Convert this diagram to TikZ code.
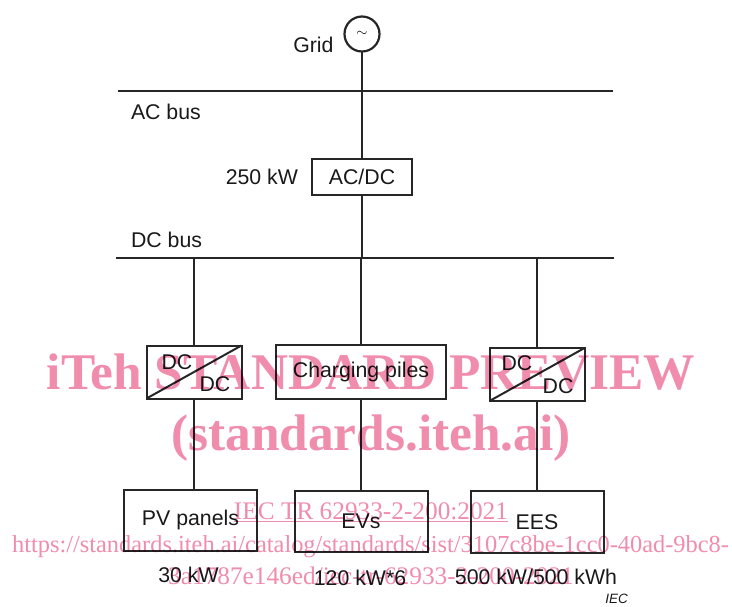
\documentclass[tikz,border=0pt]{standalone}
\usepackage{fontspec}
\setmainfont{Liberation Sans}
\newfontfamily\markfont{Liberation Serif}
\usepackage{xcolor}
\usetikzlibrary{positioning, calc}
\definecolor{markpink}{HTML}{F08CAC}
\tikzset{
    unitbox/.style={
        rectangle,
        draw=black!85,
        line width=2pt,
        inner sep=0pt,
        outer sep=0pt
    },
    source/.style={
        circle,
        draw=black!85,
        line width=2.2pt,
        minimum size=35pt,
        inner sep=0pt,
        outer sep=0pt
    },
    wire/.style={
        draw=black!85,
        line width=2pt
    },
    tag/.style={
        inner sep=0pt,
        outer sep=0pt,
        text=black!90,
        font=\fontsize{21.3}{21.3}\selectfont
    },
    stampbig/.style={
        inner sep=0pt,
        text=markpink,
        font=\markfont\bfseries\fontsize{51.4}{51.4}\selectfont
    },
    stampsmall/.style={
        inner sep=0pt,
        text=markpink,
        font=\markfont\fontsize{25.3}{25.3}\selectfont
    }
}
\begin{document}
\begin{tikzpicture}[x=1pt, y=1pt]
\useasboundingbox (0,0) rectangle (732,-606);

\node[source] (grid) at (362,-34) {\fontsize{14}{14}\selectfont$\sim$};
\node[tag, left=11pt of grid, yshift=-11pt] (gridlabel) {Grid};

\coordinate (acbusl) at (118,-91);
\coordinate (acbusr) at (613,-91);
\node[tag, anchor=west] (aclabel) at (131,-112) {AC bus};

\node[unitbox, below=107.5pt of grid, minimum width=100pt, minimum height=36pt, tag] (acdc) {AC/DC};
\node[tag, left=14pt of acdc] (acpower) {250 kW};

\coordinate (dcbusl) at (116,-258);
\coordinate (dcbusr) at (614,-258);
\node[tag, anchor=west] (dclabel) at (131,-240) {DC bus};

\node[unitbox, below=150pt of acdc, xshift=-1pt, minimum width=170pt, minimum height=54pt, tag] (piles) {Charging piles};
\node[unitbox, left=34.5pt of piles, minimum width=95pt, minimum height=53pt] (pvconv) {};
\node[unitbox, right=43.5pt of piles, yshift=-2.5pt, minimum width=95pt, minimum height=53pt] (eesconv) {};

\node[tag] (pvconva) at ($(pvconv.center)+(-17,10)$) {DC};
\node[tag] (pvconvb) at ($(pvconv.center)+(21,-12)$) {DC};
\node[tag] (eesconva) at ($(eesconv.center)+(-20,11)$) {DC};
\node[tag] (eesconvb) at ($(eesconv.center)+(21,-12)$) {DC};

\node[unitbox, below=91pt of pvconv, xshift=-3.5pt, minimum width=133pt, minimum height=61pt, tag] (pv) {PV panels};
\node[unitbox, below=92pt of piles, minimum width=133pt, minimum height=61pt, tag] (evs) {EVs};
\node[unitbox, below=90pt of eesconv, minimum width=133pt, minimum height=62pt, tag] (ees) {EES};

\node[tag, below=17pt of pv, xshift=-2pt] (pvpower) {30 kW};
\node[tag, below=18pt of evs, xshift=-1pt] (evpower) {120 kW*6};
\node[tag, below=16pt of ees, xshift=-1pt] (eespower) {500 kW/500 kWh};
\node[tag, font=\itshape\fontsize{13.5}{13.5}\selectfont] (ieclabel) at (616.5,-598.5) {IEC};

\draw[wire] (acbusl) -- (acbusr);
\draw[wire] (dcbusl) -- (dcbusr);
\draw[wire] (grid) -- (acdc);
\draw[wire] (acdc) -- (acdc |- dcbusl);
\draw[wire] (pvconv.north |- dcbusl) -- (pvconv);
\draw[wire] (piles.north |- dcbusl) -- (piles);
\draw[wire] (eesconv.north |- dcbusl) -- (eesconv);
\draw[wire] (pvconv.south west) -- (pvconv.north east);
\draw[wire] (eesconv.south west) -- (eesconv.north east);
\draw[wire] (pvconv.south) -- (pvconv.south |- pv.north);
\draw[wire] (piles) -- (evs);
\draw[wire] (eesconv) -- (ees);

% stamp over the drawing
\begin{scope}[blend mode=multiply]
\node[stampbig] (stampa) at (371,-372) {iTeh STANDARD PREVIEW};
\node[stampbig, below=24pt of stampa] (stampb) {(standards.iteh.ai)};
\node[stampsmall] (stampc) at (371,-512) {\underline{IEC TR 62933-2-200:2021}};
\node[stampsmall, font=\markfont\fontsize{24.4}{24.4}\selectfont] (stampd) at (370.5,-547) {https://standards.iteh.ai/catalog/standards/sist/3107c8be-1cc0-40ad-9bc8-};
\node[stampsmall] (stampe) at (371,-576) {3a1787e146ed/iec-tr-62933-2-200-2021};
\end{scope}

\end{tikzpicture}
\end{document}
